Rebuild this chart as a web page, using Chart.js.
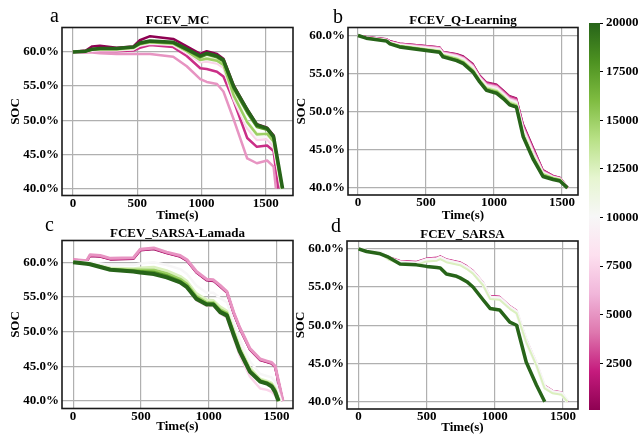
<!DOCTYPE html>
<html><head><meta charset="utf-8">
<script src="https://cdn.jsdelivr.net/npm/chart.js@4.4.1/dist/chart.umd.min.js"></script>
<style>
html,body{margin:0;padding:0;background:#fff;}
#wrap{position:relative;width:642px;height:434px;overflow:hidden;background:#fff;}
canvas{position:absolute;left:0;top:0;}
.lt{position:absolute;font-family:'Liberation Serif','Times New Roman',serif;font-size:20px;line-height:20px;color:#000;}
</style></head><body>
<div id="wrap">
<canvas id="ca" width="642" height="434"></canvas>
<canvas id="cb" width="642" height="434"></canvas>
<canvas id="cc" width="642" height="434"></canvas>
<canvas id="cd" width="642" height="434"></canvas>
<canvas id="cbar" width="642" height="434"></canvas>
<div class="lt" style="left:50px;top:5px;">a</div>
<div class="lt" style="left:333px;top:6px;">b</div>
<div class="lt" style="left:45px;top:214px;">c</div>
<div class="lt" style="left:331px;top:215px;">d</div>
</div>
<script>
// ---------- data ----------
const xTicks = [0, 500, 1000, 1500];
const yTicks = [40, 45, 50, 55, 60];
const cbTicks = [2500, 5000, 7500, 10000, 12500, 15000, 17500, 20000];
const cbMin = 100, cbMax = 20000;

// Panel a: FCEV_MC
const aEpisodes = [100, 2500, 5000, 7500, 10000, 12500, 15000, 17500, 20000];
const aTime = [0, 100, 150, 210, 340, 470, 520, 600, 780, 885, 990, 1040, 1120, 1170, 1250, 1355, 1430, 1510, 1560];
const aEnd = [1615, 1595, 1578, 1618, 1620, 1622, 1625, 1628, 1630];
const aSoc100   = [60.0, 60.2, 60.8, 60.9, 60.6, 60.8, 61.7, 62.3, 61.9, 60.8, 59.7, 60.1, 59.7, 59.0, 55.1, 51.6, 49.4, 48.9, 47.8];
const aSoc2500  = [60.0, 60.0, 60.1, 60.1, 60.1, 60.2, 60.6, 61.0, 60.7, 59.4, 57.6, 57.5, 57.1, 56.4, 52.8, 47.4, 46.1, 46.3, 45.5];
const aSoc5000  = [60.0, 59.9, 59.9, 59.8, 59.7, 59.7, 59.7, 59.7, 59.3, 57.9, 56.0, 55.6, 55.3, 54.2, 50.1, 44.4, 43.7, 44.1, 43.2];
const aSoc7500  = [60.0, 60.1, 60.2, 60.2, 60.2, 60.4, 60.9, 61.2, 61.0, 59.8, 58.5, 58.6, 58.3, 57.7, 53.0, 48.8, 47.1, 47.2, 46.1];
const aSoc10000 = [60.0, 60.1, 60.2, 60.3, 60.3, 60.4, 61.0, 61.3, 61.1, 60.0, 58.7, 58.9, 58.6, 58.0, 53.4, 49.3, 47.5, 47.6, 46.6];
const aSoc12500 = [60.0, 60.1, 60.3, 60.3, 60.3, 60.5, 61.1, 61.4, 61.2, 60.1, 58.9, 59.1, 58.8, 58.2, 53.8, 49.8, 48.0, 48.0, 46.9];
const aSoc15000 = [60.0, 60.1, 60.3, 60.4, 60.4, 60.6, 61.1, 61.4, 61.2, 60.1, 58.8, 59.0, 58.7, 58.1, 53.6, 49.7, 47.9, 48.0, 46.9];
const aSoc17500 = [60.0, 60.1, 60.4, 60.5, 60.5, 60.7, 61.2, 61.5, 61.3, 60.3, 59.2, 59.6, 59.2, 58.6, 54.6, 51.1, 49.0, 48.6, 47.4];
const aSoc20000 = [60.0, 60.1, 60.4, 60.5, 60.5, 60.7, 61.3, 61.6, 61.4, 60.4, 59.4, 59.8, 59.4, 58.8, 54.9, 51.5, 49.3, 48.8, 47.6];

// Panel b: FCEV_Q-Learning
const bEpisodes = [100, 2500, 5000, 7500, 10000, 12500, 15000, 17500, 20000];
const bTime = [0, 60, 210, 235, 305, 430, 600, 625, 725, 775, 845, 895, 945, 1020, 1070, 1115, 1165, 1215, 1290, 1360, 1435, 1485];
const bEnd = [1546, 1545, 1544, 1543, 1542, 1541, 1541, 1540, 1540];
const bSoc100   = [60.0, 59.85, 59.56, 59.3, 59.0, 58.8, 58.5, 57.9, 57.6, 57.3, 56.3, 54.8, 53.9, 53.6, 52.8, 52.1, 51.8, 48.4, 45.3, 42.4, 41.6, 41.4];
const bSoc2500  = [60.0, 59.83, 59.52, 59.25, 58.95, 58.75, 58.45, 57.85, 57.55, 57.2, 56.2, 54.7, 53.8, 53.5, 52.7, 52.0, 51.7, 48.2, 45.1, 42.3, 41.6, 41.3];
const bSoc5000  = [60.0, 59.8, 59.48, 59.2, 58.9, 58.7, 58.4, 57.8, 57.45, 57.1, 56.05, 54.6, 53.65, 53.35, 52.55, 51.8, 51.5, 48.0, 44.9, 42.2, 41.5, 41.3];
const bSoc7500  = [60.0, 59.78, 59.45, 59.15, 58.85, 58.6, 58.3, 57.7, 57.35, 57.0, 55.95, 54.5, 53.5, 53.2, 52.4, 51.65, 51.35, 47.8, 44.7, 42.1, 41.45, 41.25];
const bSoc10000 = [60.0, 59.75, 59.42, 59.1, 58.78, 58.5, 58.2, 57.6, 57.2, 56.85, 55.8, 54.4, 53.35, 53.0, 52.25, 51.5, 51.2, 47.6, 44.5, 42.0, 41.4, 41.2];
const bSoc12500 = [60.0, 59.72, 59.38, 59.05, 58.7, 58.4, 58.05, 57.5, 57.05, 56.7, 55.6, 54.25, 53.2, 52.85, 52.1, 51.35, 51.0, 47.3, 44.3, 41.9, 41.35, 41.15];
const bSoc15000 = [60.0, 59.7, 59.34, 59.0, 58.65, 58.35, 57.95, 57.4, 56.95, 56.55, 55.45, 54.1, 53.05, 52.7, 51.95, 51.15, 50.85, 47.0, 44.0, 41.8, 41.3, 41.1];
const bSoc17500 = [60.0, 59.68, 59.3, 58.95, 58.58, 58.28, 57.88, 57.3, 56.8, 56.42, 55.3, 54.0, 52.9, 52.55, 51.8, 51.0, 50.7, 46.85, 43.85, 41.65, 41.2, 41.0];
const bSoc20000 = [60.0, 59.65, 59.26, 58.9, 58.5, 58.2, 57.8, 57.2, 56.7, 56.3, 55.2, 53.9, 52.8, 52.4, 51.7, 50.9, 50.6, 46.7, 43.7, 41.5, 41.1, 40.9];

// Panel c: FCEV_SARSA-Lamada
const cEpisodes = [100, 2500, 5000, 7500, 10000, 12500, 15000, 17500, 20000];
const cTime = [0, 100, 125, 200, 275, 445, 495, 595, 690, 790, 840, 910, 985, 1035, 1085, 1135, 1185, 1230, 1305, 1380, 1430, 1465, 1490];
const cEnd = [1546, 1547, 1548, 1510, 1535, 1525, 1520, 1518, 1515];
const cSoc100   = [60.3, 60.1, 60.9, 60.8, 60.4, 60.5, 61.7, 61.9, 61.3, 60.8, 60.2, 58.5, 57.4, 57.3, 56.5, 55.6, 52.6, 50.4, 47.4, 45.9, 45.6, 45.4, 44.9];
const cSoc2500  = [60.35, 60.15, 60.95, 60.85, 60.45, 60.55, 61.75, 61.95, 61.35, 60.85, 60.25, 58.55, 57.45, 57.35, 56.55, 55.65, 52.65, 50.45, 47.45, 45.95, 45.65, 45.45, 44.95];
const cSoc5000  = [60.4, 60.2, 61.05, 60.95, 60.55, 60.65, 61.85, 62.05, 61.45, 60.95, 60.35, 58.65, 57.55, 57.45, 56.65, 55.75, 52.75, 50.55, 47.55, 46.05, 45.75, 45.55, 45.05];
const cSoc7500  = [60.0, 59.8, 59.7, 59.3, 58.9, 58.6, 58.5, 58.3, 57.8, 57.0, 56.3, 54.5, 53.7, 53.7, 52.6, 52.0, 49.0, 46.5, 43.5, 41.8, 41.6, 41.3, 40.8];
const cSoc10000 = [60.1, 60.0, 60.0, 59.8, 59.6, 59.6, 59.8, 60.0, 59.6, 59.0, 58.3, 56.6, 55.6, 55.6, 54.8, 54.2, 51.2, 48.8, 45.7, 43.9, 43.6, 43.4, 42.8];
const cSoc12500 = [60.0, 59.8, 59.8, 59.5, 59.2, 59.1, 59.2, 59.3, 58.8, 58.0, 57.3, 55.5, 54.6, 54.5, 53.6, 53.0, 50.3, 47.8, 44.8, 43.2, 42.9, 42.6, 41.9];
const cSoc15000 = [60.0, 59.8, 59.75, 59.4, 59.0, 58.9, 58.9, 58.9, 58.4, 57.6, 56.9, 55.1, 54.2, 54.2, 53.2, 52.7, 49.9, 47.5, 44.5, 43.0, 42.7, 42.4, 41.7];
const cSoc17500 = [60.0, 59.78, 59.72, 59.35, 58.95, 58.75, 58.7, 58.6, 58.1, 57.3, 56.6, 54.9, 54.0, 54.0, 53.0, 52.5, 49.7, 47.3, 44.3, 42.9, 42.6, 42.2, 41.5];
const cSoc20000 = [60.0, 59.76, 59.7, 59.3, 58.9, 58.66, 58.5, 58.3, 57.8, 57.1, 56.4, 54.7, 53.9, 53.9, 52.8, 52.3, 49.5, 47.1, 44.2, 42.8, 42.5, 42.1, 41.3];

// Panel d: FCEV_SARSA
const dEpisodes = [100, 2500, 5000, 7500, 10000, 12500, 20000];
const dTime = [0, 60, 160, 220, 305, 425, 500, 575, 600, 645, 720, 745, 795, 840, 915, 965, 1035, 1110, 1160, 1230, 1305, 1365, 1425, 1490];
const dEnd = [1536, 1537, 1535, 1534, 1533, 1532, 1366];
const dSoc100   = [60.0, 59.78, 59.52, 58.95, 58.45, 58.3, 58.75, 58.85, 59.05, 58.65, 58.35, 58.25, 57.75, 57.15, 55.6, 53.85, 53.75, 52.55, 51.95, 48.25, 45.15, 42.15, 41.45, 41.25];
const dSoc2500  = [60.0, 59.8, 59.57, 59.0, 58.5, 58.35, 58.8, 58.9, 59.1, 58.7, 58.4, 58.3, 57.8, 57.2, 55.65, 53.9, 53.8, 52.6, 52.0, 48.3, 45.2, 42.2, 41.5, 41.3];
const dSoc5000  = [60.0, 59.77, 59.48, 58.9, 58.4, 58.25, 58.7, 58.8, 59.0, 58.6, 58.3, 58.2, 57.7, 57.1, 55.55, 53.8, 53.7, 52.5, 51.9, 48.2, 45.1, 42.1, 41.4, 41.2];
const dSoc7500  = [60.0, 59.75, 59.5, 58.8, 58.25, 58.1, 58.55, 58.65, 58.85, 58.45, 58.15, 58.05, 57.55, 56.95, 55.4, 53.65, 53.55, 52.35, 51.75, 48.0, 44.95, 41.95, 41.3, 41.1];
const dSoc10000 = [60.0, 59.72, 59.48, 58.75, 58.2, 58.05, 58.5, 58.6, 58.8, 58.4, 58.1, 58.0, 57.5, 56.9, 55.35, 53.6, 53.5, 52.3, 51.7, 47.95, 44.9, 41.9, 41.25, 41.05];
const dSoc12500 = [60.0, 59.68, 59.4, 58.6, 58.05, 57.9, 58.35, 58.45, 58.65, 58.25, 57.95, 57.85, 57.35, 56.75, 55.2, 53.45, 53.35, 52.15, 51.55, 47.8, 44.75, 41.75, 41.1, 40.9];
const dSoc20000 = [60.0, 59.65, 59.35, 58.9, 58.0, 57.9, 57.7, 57.55, 57.5, 56.7, 56.4, 56.2, 55.7, 55.0, 53.3, 52.2, 52.0, 50.4, 50.0, 45.2, 42.2, null, null, null];

const finalSoc = 40.0;

// ---------- colour map (PiYG) ----------
const piygStops = ['#8e0152','#c51b7d','#de77ae','#f1b6da','#fde0ef','#f7f7f7','#e6f5d0','#b8e186','#7fbc41','#4d9221','#276419'];
function hex2rgb(h){return [parseInt(h.slice(1,3),16),parseInt(h.slice(3,5),16),parseInt(h.slice(5,7),16)];}
function piyg(t){
  t = Math.max(0, Math.min(1, t));
  const p = t * 10, i = Math.min(9, Math.floor(p)), f = p - i;
  const a = hex2rgb(piygStops[i]), b = hex2rgb(piygStops[i+1]);
  const c = a.map((v,k)=>Math.round(v + (b[k]-v)*f));
  return 'rgb(' + c.join(',') + ')';
}
function epColor(ep){ return piyg((ep - cbMin) / (cbMax - cbMin)); }

// ---------- chart setup ----------
Chart.defaults.font.family = "'Liberation Serif','Times New Roman',serif";
Chart.defaults.font.size = 13;
Chart.defaults.font.weight = 'bold';
Chart.defaults.color = '#000';

const boxPlugin = {
  id: 'box',
  afterDatasetsDraw(chart){
    const {ctx, chartArea:a} = chart;
    ctx.save();
    ctx.strokeStyle = '#1a1a1a';
    ctx.lineWidth = 1.6;
    ctx.strokeRect(a.left, a.top, a.right - a.left, a.bottom - a.top);
    ctx.restore();
  }
};

function points(times, vals, end){
  const pts = [];
  for (let i = 0; i < times.length; i++) if (vals[i] !== null) pts.push({x: times[i], y: vals[i]});
  pts.push({x: end, y: finalSoc});
  return pts;
}

function makePanel(id, cfg){
  const datasets = cfg.episodes.map((ep, i) => ({
    data: points(cfg.time, cfg.series[i], cfg.end[i]),
    borderColor: epColor(ep),
    borderWidth: cfg.widths[i],
    pointRadius: 0,
    tension: 0,
    fill: false,
    borderJoinStyle: 'round',
    order: -ep
  }));
  new Chart(document.getElementById(id), {
    type: 'line',
    data: {datasets},
    options: {
      responsive: false, animation: false, devicePixelRatio: 1,
      layout: {padding: cfg.pad},
      plugins: {
        legend: {display: false}, tooltip: {enabled: false},
        title: {display: true, text: cfg.title, fullSize: false, color: '#000',
                font: {size: 13, weight: 'bold', lineHeight: 1}, padding: {top: 14.5, bottom: 0}}
      },
      scales: {
        x: {
          type: 'linear', min: cfg.xMin, max: cfg.xMax,
          afterBuildTicks: s => { s.ticks = xTicks.map(v => ({value: v})); },
          afterFit: s => { s.height = cfg.xH; },
          grid: {color: '#b0b0b0', lineWidth: 1.2, drawTicks: false},
          border: {display: false},
          ticks: {padding: 0, maxRotation: 0, callback: v => String(v)},
          title: {display: true, text: 'Time(s)', font: {size: 13, weight: 'bold', lineHeight: 1}, padding: {top: 0, bottom: 0}}
        },
        y: {
          type: 'linear', min: cfg.yMin, max: cfg.yMax,
          afterBuildTicks: s => { s.ticks = yTicks.map(v => ({value: v})); },
          afterFit: s => { s.width = 62; },
          grid: {color: '#b0b0b0', lineWidth: 1.2, drawTicks: false},
          border: {display: false},
          ticks: {padding: 3, callback: v => Number(v).toFixed(1) + '%'},
          title: {display: true, text: 'SOC', font: {size: 13, weight: 'bold', lineHeight: 1}, padding: {top: 9.5, bottom: 0}}
        }
      }
    },
    plugins: [boxPlugin]
  });
}

makePanel('ca', {
  title: 'FCEV_MC', episodes: aEpisodes, time: aTime, end: aEnd,
  series: [aSoc100, aSoc2500, aSoc5000, aSoc7500, aSoc10000, aSoc12500, aSoc15000, aSoc17500, aSoc20000],
  widths: [2.5, 2.5, 2.5, 2.5, 2.5, 2.5, 2.5, 2.5, 3.5],
  xMin: -85, xMax: 1711, yMin: 38.98, yMax: 63.57,
  pad: {left: 0, right: 349, top: 0, bottom: 211.5}, xH: 27
});
makePanel('cb', {
  title: 'FCEV_Q-Learning', episodes: bEpisodes, time: bTime, end: bEnd,
  series: [bSoc100, bSoc2500, bSoc5000, bSoc7500, bSoc10000, bSoc12500, bSoc15000, bSoc17500, bSoc20000],
  widths: [1.5, 2, 2, 2, 2, 2, 2, 2, 3.5],
  xMin: -74, xMax: 1618, yMin: 39.07, yMax: 61.05,
  pad: {left: 286, right: 64, top: 0, bottom: 212}, xH: 27
});
makePanel('cc', {
  title: 'FCEV_SARSA-Lamada', episodes: cEpisodes, time: cTime, end: cEnd,
  series: [cSoc100, cSoc2500, cSoc5000, cSoc7500, cSoc10000, cSoc12500, cSoc15000, cSoc17500, cSoc20000],
  widths: [2.5, 2.5, 3, 2.5, 2.5, 2.5, 2.5, 2.5, 4],
  xMin: -82, xMax: 1622, yMin: 38.92, yMax: 63.12,
  pad: {left: 0, right: 349, top: 213, bottom: 0.5}, xH: 25
});
makePanel('cd', {
  title: 'FCEV_SARSA', episodes: dEpisodes, time: dTime, end: dEnd,
  series: [dSoc100, dSoc2500, dSoc5000, dSoc7500, dSoc10000, dSoc12500, dSoc20000],
  widths: [1, 1.2, 1.5, 3, 4, 2, 3.5],
  xMin: -84, xMax: 1610, yMin: 39.05, yMax: 61.02,
  pad: {left: 285, right: 64, top: 213.5, bottom: 0}, xH: 25
});

// ---------- colour bar ----------
const gradientPlugin = {
  id: 'cbGradient',
  beforeDatasetsDraw(chart){
    const {ctx, chartArea:a} = chart;
    const g = ctx.createLinearGradient(0, a.bottom, 0, a.top);
    piygStops.forEach((c, i) => g.addColorStop(i / 10, c));
    ctx.save();
    ctx.fillStyle = g;
    ctx.fillRect(a.left, a.top, a.right - a.left, a.bottom - a.top);
    ctx.restore();
  }
};
new Chart(document.getElementById('cbar'), {
  type: 'line',
  data: {datasets: []},
  options: {
    responsive: false, animation: false, devicePixelRatio: 1,
    layout: {padding: {left: 589, right: 0, top: 23, bottom: 24}},
    plugins: {legend: {display: false}, tooltip: {enabled: false}},
    scales: {
      x: {type: 'linear', display: false, min: 0, max: 1},
      y: {
        type: 'linear', position: 'right', min: cbMin, max: cbMax,
        afterBuildTicks: s => { s.ticks = cbTicks.map(v => ({value: v})); },
        afterFit: s => { s.width = 42; },
        grid: {display: true, drawOnChartArea: false, drawTicks: true, tickLength: 3, tickColor: '#000', color: '#000'},
        border: {display: false},
        ticks: {padding: 3, callback: v => String(v)}
      }
    }
  },
  plugins: [gradientPlugin]
});
</script>
</body></html>
